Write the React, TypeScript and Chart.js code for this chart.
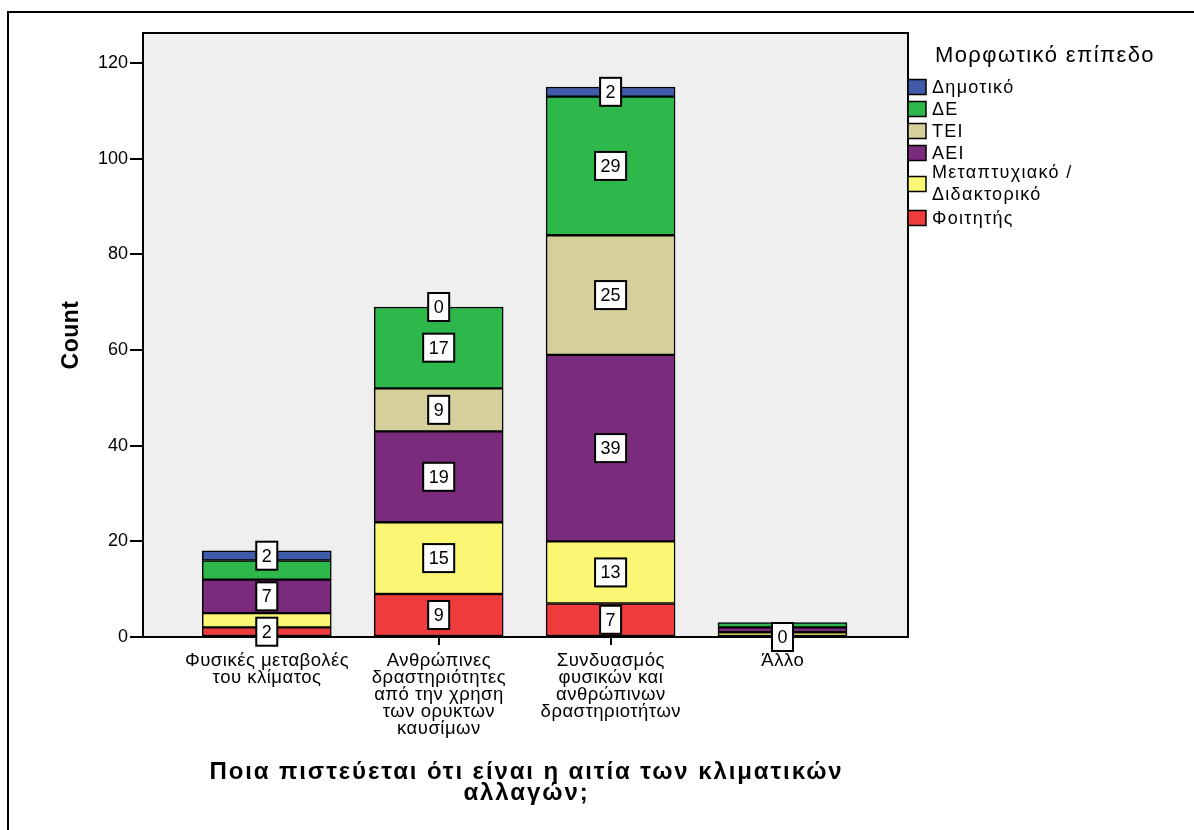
import React, { useEffect, useRef } from "react";
import { Chart, registerables } from "chart.js";

Chart.register(...registerables);

const categories: string[][] = [
  ["Φυσικές μεταβολές", "του κλίματος"],
  ["Ανθρώπινες", "δραστηριότητες", "από την χρηση", "των ορυκτων", "καυσίμων"],
  ["Συνδυασμός", "φυσικών και", "ανθρώπινων", "δραστηριοτήτων"],
  ["Άλλο"],
];

const seriesNames: string[][] = [
  ["Φοιτητής"],
  ["Μεταπτυχιακό /", "Διδακτορικό"],
  ["ΑΕΙ"],
  ["ΤΕΙ"],
  ["ΔΕ"],
  ["Δημοτικό"],
];

const foititis = [2, 9, 7, 0];
const metaptyxiako = [3, 15, 13, 1];
const aei = [7, 19, 39, 1];
const tei = [0, 9, 25, 0];
const de = [4, 17, 29, 1];
const dimotiko = [2, 0, 2, 0];

// which segment values carry a value box in the reference
const labelShown: boolean[][] = [
  [true, true, true, true],
  [false, true, true, false],
  [true, true, true, false],
  [false, true, true, false],
  [false, true, true, false],
  [true, true, true, false],
];

const seriesColors = ["#EE3B3B", "#FBF673", "#7B2B7B", "#D4CF9B", "#2EB74B", "#3F5BA9"];

const yTicks = [0, 20, 40, 60, 80, 100, 120];
const yMax = 126.3;

const xTitle = ["Ποια πιστεύεται ότι είναι η αιτία των κλιματικών", "αλλαγών;"];
const yTitle = "Count";
const legendTitle = "Μορφωτικό επίπεδο";

const FONT = "'Liberation Sans', Arial, sans-serif";

const decorPlugin = {
  id: "decor",
  beforeDraw(chart: any) {
    const { ctx, chartArea: a } = chart;
    ctx.save();
    ctx.fillStyle = "#FFFFFF";
    ctx.fillRect(0, 0, chart.width, chart.height);
    // outer frame
    ctx.strokeStyle = "#000";
    ctx.lineWidth = 2;
    ctx.beginPath();
    ctx.moveTo(8, chart.height + 5);
    ctx.lineTo(8, 12);
    ctx.lineTo(chart.width + 5, 12);
    ctx.stroke();
    // plot background
    ctx.fillStyle = "#EFEFEF";
    ctx.fillRect(a.left, a.top, a.right - a.left, a.bottom - a.top);
    ctx.restore();
  },
  afterDatasetsDraw(chart: any) {
    const { ctx, chartArea: a } = chart;
    ctx.save();
    ctx.strokeStyle = "#000";
    ctx.lineWidth = 2;
    ctx.strokeRect(a.left, a.top, a.right - a.left, a.bottom - a.top);

    // value boxes
    ctx.font = `18px ${FONT}`;
    ctx.textAlign = "center";
    ctx.textBaseline = "middle";
    chart.data.datasets.forEach((ds: any, di: number) => {
      const meta = chart.getDatasetMeta(di);
      meta.data.forEach((bar: any, i: number) => {
        if (!labelShown[di][i]) return;
        const v = ds.data[i].y;
        const txt = String(v);
        const yc = (bar.y + bar.base) / 2;
        const w = ctx.measureText(txt).width + 11;
        const h = 28;
        ctx.fillStyle = "#FFFFFF";
        ctx.fillRect(bar.x - w / 2, yc - h / 2, w, h);
        ctx.strokeStyle = "#000";
        ctx.lineWidth = 2;
        ctx.strokeRect(bar.x - w / 2, yc - h / 2, w, h);
        ctx.fillStyle = "#000";
        ctx.fillText(txt, bar.x, yc + 1);
      });
    });

    // category labels
    const xs = chart.scales.x;
    ctx.fillStyle = "#000";
    ctx.font = `18.5px ${FONT}`;
    ctx.letterSpacing = "0.5px";
    categories.forEach((lines, i) => {
      const px = xs.getPixelForValue(i);
      lines.forEach((ln, li) => ctx.fillText(ln, px + 0.25, 661 + li * 17));
    });

    // axis titles
    ctx.font = `bold 24px ${FONT}`;
    ctx.letterSpacing = "1.9px";
    const cx = (a.left + a.right) / 2;
    xTitle.forEach((line, i) => ctx.fillText(line, cx + 1, 772 + i * 21));
    ctx.letterSpacing = "0.5px";
    ctx.save();
    ctx.translate(72, (a.top + a.bottom) / 2);
    ctx.rotate(-Math.PI / 2);
    ctx.font = `bold 23px ${FONT}`;
    ctx.fillText(yTitle, 0, 0);
    ctx.restore();

    // legend
    ctx.textAlign = "left";
    ctx.font = `22px ${FONT}`;
    ctx.letterSpacing = "1.4px";
    ctx.fillText(legendTitle, 935, 56);
    ctx.font = `18px ${FONT}`;
    ctx.letterSpacing = "1.3px";
    let y = 87;
    for (let k = seriesNames.length - 1; k >= 0; k--) {
      const lines = seriesNames[k];
      const boxH = 15;
      const yc = lines.length > 1 ? y + 9 : y;
      ctx.fillStyle = seriesColors[k];
      ctx.fillRect(908, yc - boxH / 2, 18, boxH);
      ctx.strokeStyle = "#000";
      ctx.lineWidth = 1.5;
      ctx.strokeRect(908, yc - boxH / 2, 18, boxH);
      ctx.fillStyle = "#000";
      lines.forEach((ln, li) => {
        const ty = lines.length > 1 ? y - 3 + li * 22 : y;
        ctx.fillText(ln, 932, ty + 1);
      });
      y += lines.length > 1 ? 43 : 22;
    }
    ctx.restore();
  },
};

export default function App() {
  const ref = useRef<HTMLCanvasElement>(null);
  useEffect(() => {
    document.body.style.margin = "0";
    const series = [foititis, metaptyxiako, aei, tei, de, dimotiko];
    const chart = new Chart(ref.current!, {
      type: "bar",
      data: {
        datasets: series.map((vals, k) => ({
          label: seriesNames[k].join(" "),
          data: vals.map((v, i) => ({ x: i, y: v })),
          backgroundColor: seriesColors[k],
          borderColor: "#000",
          borderWidth: 1.5,
          borderSkipped: false,
          barThickness: 129,
        })),
      },
      options: {
        animation: false,
        responsive: false,
        layout: { padding: { top: 33, right: 286, left: 0, bottom: 0 } },
        plugins: { legend: { display: false }, tooltip: { enabled: false } },
        scales: {
          x: {
            type: "linear",
            stacked: true,
            offset: false,
            min: -0.72,
            max: 3.73,
            afterBuildTicks: (s: any) => {
              s.ticks = categories.map((_, i) => ({ value: i }));
            },
            afterFit: (s: any) => {
              s.height = 193;
            },
            ticks: { display: false },
            grid: { offset: false, drawOnChartArea: false, drawTicks: true, tickLength: 8, color: "#000", lineWidth: 2 },
            border: { display: false },
          },
          y: {
            stacked: true,
            min: 0,
            max: yMax,
            afterBuildTicks: (s: any) => {
              s.ticks = yTicks.map((v) => ({ value: v }));
            },
            afterFit: (s: any) => {
              s.width = 143;
            },
            ticks: {
              padding: 2,
              color: "#000",
              font: { family: FONT, size: 18 },
            },
            grid: { drawOnChartArea: false, drawTicks: true, tickLength: 13, color: "#000", lineWidth: 2 },
            border: { display: false },
          },
        },
      },
      plugins: [decorPlugin],
    });
    return () => chart.destroy();
  }, []);
  return <canvas ref={ref} width={1194} height={830} style={{ display: "block" }} />;
}
